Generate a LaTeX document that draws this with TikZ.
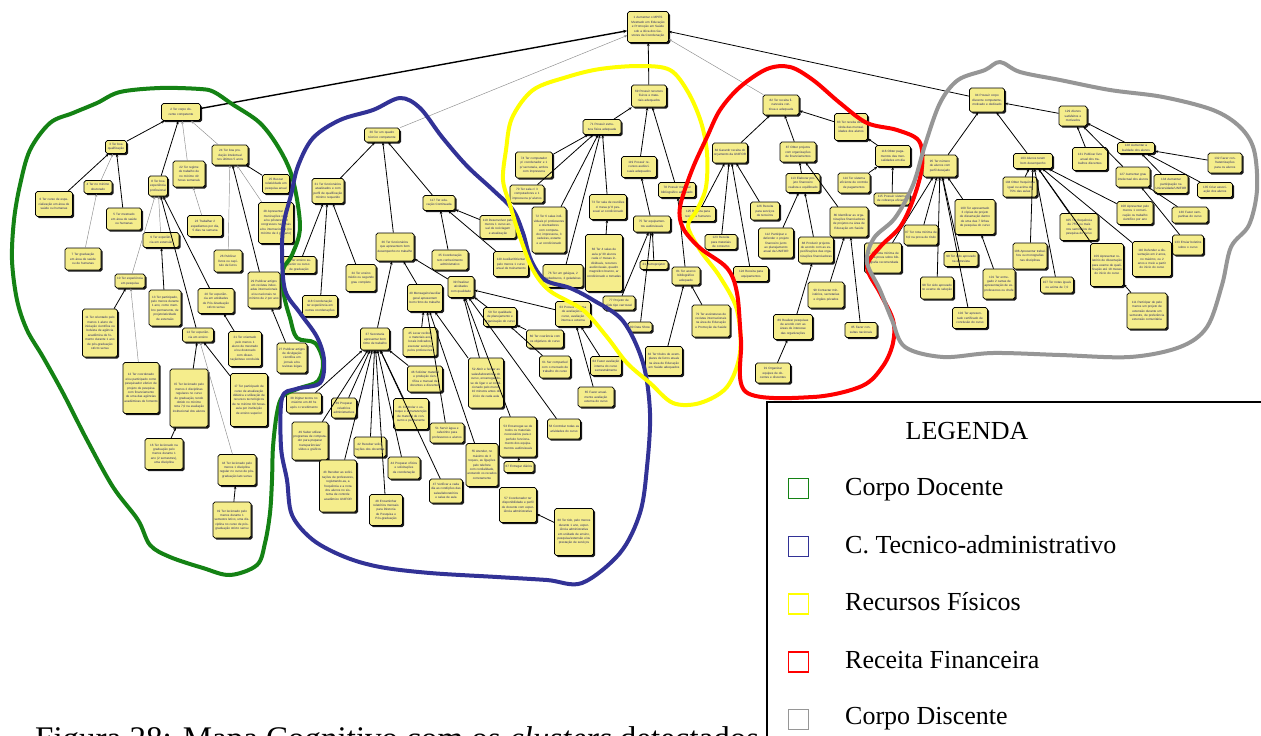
\documentclass[tikz,border=0pt]{standalone}
\usepackage{fontspec}
\setmainfont{Liberation Serif}
\newfontfamily\boxfont{Liberation Sans}
\usetikzlibrary{arrows.meta,shadows}
\definecolor{boxfill}{RGB}{245,237,140}
\definecolor{boxtext}{RGB}{40,40,100}
\definecolor{clgreen}{RGB}{20,130,20}
\definecolor{clblue}{RGB}{50,50,150}
\definecolor{clyellow}{RGB}{255,255,0}
\definecolor{clred}{RGB}{255,0,0}
\definecolor{clgray}{RGB}{150,150,150}
\newcommand\bx[6]{\pgfmathsetmacro\bxtw{#4-2.4}\node[box,minimum width=#4pt,minimum height=#5pt,text width=\bxtw pt] (#1) at (#2,#3) {#6};}
\begin{document}
\begin{tikzpicture}[x=1pt,y=-1pt,
  box/.style={draw=black,line width=0.7pt,fill=boxfill,rounded corners=1.8pt,
    drop shadow={shadow xshift=1.6pt,shadow yshift=-1.6pt,fill=black,opacity=0.9},
    inner sep=0.6pt,align=center,text=boxtext,
    font=\boxfont\fontsize{3.1}{4.4}\selectfont},
  ek/.style={draw=black,line width=0.8pt,-{Stealth[length=3.2pt,width=2.6pt]}},
  ekk/.style={draw=black,line width=1.4pt,-{Stealth[length=4pt,width=3.4pt]}},
  eg/.style={draw=black!45,line width=0.45pt,-{Stealth[length=3pt,width=2.4pt]}},
  cluster/.style={line width=4pt,line join=round},
  legtext/.style={anchor=base west,inner sep=0pt,font=\fontsize{26}{30}\selectfont},
  legsq/.style={line width=1.3pt,minimum size=20pt,inner sep=0pt}]
\useasboundingbox (0,0) rectangle (1261,736);
\clip (0,0) rectangle (1261,736);
\fill[white] (0,0) rectangle (1261,736);

% ---------- root ----------
\bx{r1}{648}{27}{41}{31}{1 Aumentar o MPES\\Mestrado em Educação e Promoção em Saúde sob a ótica dos Gestores da Coordenação}

% ---------- corpo docente ----------
\bx{c2}{181}{112}{39}{17}{2 Ter corpo docente competente}
\bx{c3}{116}{147}{21}{13}{3 Ter boa qualificação}
\bx{c4}{98}{187}{28}{13}{4 Ter no mínimo doutorado}
\bx{c5}{124}{219}{35}{22}{5 Ter mestrado em área de saúde ou humanas}
\bx{c6}{54}{204}{37}{25}{6 Ter curso de especialização em área de saúde ou humanas}
\bx{c7}{83}{259}{36}{22}{7 Ter graduação em área de saúde ou de humanas}
\bx{c8}{158}{186}{19}{20}{8 Ter boa experiência profissional}
\bx{c9}{161}{240}{36}{15}{9 Ter experiência em extensão}
\bx{c10}{130}{281}{30}{14}{10 Ter experiência em pesquisa}
\bx{c11}{100}{333}{35}{48}{11 Ter orientado pelo menos 1 aluno de iniciação científica ou bolsista de agência acadêmica de fomento durante 1 ano de pós-graduação stricto sensu}
\bx{c12}{141}{388}{36}{51}{12 Ter coordenado e/ou participado como pesquisador efetivo de projeto de pesquisa com financiamento de uma das agências acadêmicas de fomento}
\bx{c13}{165}{308}{32}{36}{13 Ter participado, pelo menos durante 1 ano, como membro permanente, de projeto/atividade de extensão}
\bx{c14}{198}{335}{31}{14}{14 Ter experiência em ensino}
\bx{c15}{189}{398}{38}{58}{15 Ter lecionado pelo menos 2 disciplinas regulares no curso de graduação, tendo obtido no mínimo nota 7,0 na avaliação institucional dos alunos}
\bx{c16}{164}{454}{38}{31}{16 Ter lecionado na graduação pelo menos durante 1 ano (2 semestres), uma disciplina}
\bx{c17}{249}{400}{37}{53}{17 Ter participado de curso de atualização didática e utilização de recursos tecnológicos de no mínimo 60 horas-aula por instituição de ensino superior}
\bx{c18}{237}{470}{38}{31}{18 Ter lecionado pelo menos 1 disciplina regular no curso de pós-graduação lato sensu}
\bx{c19}{232}{520}{38}{36}{19 Ter lecionado pelo menos durante 1 semestre letivo, uma disciplina no curso de pós-graduação stricto sensu}
\bx{c20}{216}{301}{36}{25}{20 Ter experiência em atividades de Pós-Graduação stricto sensu}
\bx{c21}{245}{349}{33}{35}{21 Ter orientado pelo menos 1 aluno de mestrado e/ou doutorado com dissertação/tese concluída}
\bx{c22}{189}{174}{32}{26}{22 Ter regime de trabalho de no mínimo 40 horas semanais}
\bx{c23}{205}{226}{35}{21}{23 Trabalhar 2 expedientes por dia, 5 dias na semana}
\bx{c24}{230}{155}{36}{20}{24 Ter boa produção intelectual nos últimos 5 anos}
\bx{c25}{276}{184}{27}{19}{25 Buscar relatividade em pesquisa anual}
\bx{c26}{228}{261}{28}{22}{26 Publicar livros ou capítulo de livros}
\bx{c27}{292}{358}{30}{30}{27 Publicar artigos de divulgação científica em jornais e/ou revistas leigas}
\bx{c28}{276}{223}{35}{41}{28 Apresentar comunicações orais e/ou pôsteres em congressos nacionais e/ou internacionais (no mínimo de 2 por ano)}
\bx{c29}{264}{290}{32}{36}{29 Publicar artigos em revistas indexadas internacionais e/ou nacionais no mínimo de 2 por ano}

% ---------- corpo tecnico-administrativo ----------
\bx{t30}{382}{135}{35}{14}{30 Ter um quadro técnico competente}
\bx{t31}{328}{191}{32}{25}{31 Ter funcionários atualizados e com perfil de qualificação mínimo requerido}
\bx{t117}{439}{203}{32}{15}{117 Ter educação Continuada}
\bx{t32}{299}{265}{34}{17}{32 Ter ensino superior ou curso de graduação}
\bx{t34}{361}{278}{30}{27}{34 Ter ensino médio ou segundo grau completo}
\bx{t118}{320}{306}{35}{21}{118 Coordenação ter experiência em outras coordenações}
\bx{t35}{450}{260}{36}{20}{35 Coordenação tem conhecimento administrativo}
\bx{t119}{498}{227}{36}{23}{119 Desenvolver pelo menos 1 curso anual de reciclagem e atualização}
\bx{t120}{511}{264}{35}{25}{120 Auxiliar/Orientar pelo menos 1 curso anual de treinamento}
\bx{t36}{395}{247}{38}{28}{36 Ter funcionários que apresentem bom desempenho no trabalho}
\bx{t40}{425}{298}{35}{27}{40 Mensageiro/auxiliar geral apresentem bom ritmo de trabalho}
\bx{t39}{461}{287}{26}{21}{39 Realizar atividades com qualidade}
\bx{t59}{500}{317}{33}{19}{59 Ter qualidade de planejamento e organização do curso}
\bx{t63}{573}{314}{35}{25}{63 Possuir sistema de avaliação do curso, avaliação interna e externa}
\bx{t37}{375}{339}{29}{22}{37 Secretaria apresentar bom ritmo de trabalho}
\bx{t45}{420}{342}{34}{29}{45 Levar recibos e materiais aos locais indicados, executar serviços pelos professores}
\bx{t60}{545}{339}{37}{18}{60 Ter coerência com os objetivos do curso}
\bx{t61}{555}{367}{31}{22}{61 Ser compatível com o mercado de trabalho do curso}
\bx{t64}{606}{366}{31}{19}{64 Fazer avaliação interna do curso semestralmente}
\bx{t65}{596}{397}{36}{20}{65 Fazer anualmente avaliação externa do curso}
\bx{t46}{425}{379}{35}{26}{46 Solicitar material e produção científica e manual de docentes e discentes}
\bx{t52}{486}{383}{35}{50}{52 Abrir e fechar as salas/laboratórios do curso, encarregando-se de ligar o ar condicionado pelo menos 10 minutos antes do início de cada aula}
\bx{t38}{304}{403}{35}{20}{38 Digitar textos no máximo em 48 hs após o recebimento}
\bx{t39p}{344}{408}{25}{20}{39 Preparar relatórios administrativos}
\bx{t41}{411}{414}{35}{31}{41 Controlar o estoque e a manutenção de material de consumo e permanente}
\bx{t51}{447}{433}{34}{20}{51 Servir água e cafezinho para professores e alunos}
\bx{t53}{518}{437}{37}{40}{53 Encarregar-se de todos os materiais necessários para o perfeito funcionamento dos equipamentos audiovisuais}
\bx{t58}{564}{429}{33}{20}{58 Controlar todas as atividades do curso}
\bx{t49}{310}{441}{36}{38}{49 Saber utilizar programas de computador para preparar transparências/ slides e gráficos}
\bx{t42}{370}{447}{32}{20}{42 Receber solicitações dos docentes}
\bx{t44}{404}{468}{32}{22}{44 Preparar ofícios e solicitações da coordenação}
\bx{t55}{482}{465}{32}{43}{55 Atender, no máximo de 3 toques, as ligações pelo telefone com cordialidade, anotando os recados corretamente}
\bx{t67}{519}{467}{30}{11}{67 Entregar diários}
\bx{t43}{338}{486}{37}{52}{43 Receber as solicitações de professores, registrando-as, a frequência e a nota dos alunos no sistema de controle acadêmico UNIFOR}
\bx{t47}{446}{491}{33}{24}{47 Verificar a cada dia as condições das salas/laboratórios e salas de aula}
\bx{t48}{386}{510}{33}{31}{48 Encaminhar relatórios mensais para Diretoria de Pesquisa e Pós-graduação}
\bx{t57}{518}{505}{37}{35}{57 Coordenador ter disponibilidade e perfil de docente com experiência administrativa}
\bx{t68}{574}{532}{39}{47}{68 Ter tido, pelo menos durante 1 ano, experiência administrativa em unidade de ensino, pesquisa/extensão e/ou prestação de serviços}

% ---------- recursos fisicos ----------
\bx{y69}{649}{96}{35}{22}{69 Possuir recursos físicos e materiais adequados}
\bx{y71}{602}{127}{38}{15}{71 Possuir estrutura física adequada}
\bx{y74}{534}{165}{37}{26}{74 Ter computador p/ coordenador e 1 p/ secretaria, ambos com impressora}
\bx{y70}{527}{194}{34}{18}{70 Ter sala c/ 3 computadores e 1 impressora p/ alunos}
\bx{y72}{549}{230}{34}{46}{72 Ter 6 salas individuais p/ professores e orientadores com computador, impressora, 3 cadeiras, estante e ar condicionado}
\bx{y73}{608}{207}{37}{25}{73 Ter sala de reuniões c/ mesa p/ 8 pessoas/ ar condicionado}
\bx{y66}{604}{263}{37}{57}{66 Ter 4 salas de aula p/ 30 alunos cada c/ mesas individuais, recursos audiovisuais, quadro magnético branco, ar condicionado e tomadas}
\bx{y76}{563}{276}{40}{23}{76 Ter um gelágua, 2 bebedouros, 2 geladeiras}
\bx{y119}{639}{167}{35}{21}{119 Possuir recursos audiovisuais adequados}
\bx{y75}{652}{224}{37}{16}{75 Ter equipamentos audiovisuais}
\bx{y78}{677}{190}{37}{15}{78 Possuir material bibliográfico adequado}
\bx{y77}{619}{303}{32}{14}{77 Projetor de slide tipo carrossel}
\bx{y21}{654}{265}{28}{9}{21 Retroprojetor}
\bx{y80}{640}{327}{24}{10}{80 Data Show}
\bx{y81}{686}{276}{28}{18}{81 Ter acervo bibliográfico adequado}
\bx{y79}{711}{321}{38}{32}{79 Ter assinaturas de revistas internacionais na área de Educação e Promoção da Saúde}
\bx{y82}{664}{361}{37}{29}{82 Ter títulos de exemplares de livros atuais na área de Educação em Saúde adequados}

% ---------- receita financeira ----------
\bx{r125}{698}{214}{35}{15}{125 Receita para recursos humanos}
\bx{r82}{781}{105}{36}{20}{82 Ter receita financeira contínua e adequada}
\bx{r83}{851}{127}{33}{27}{83 Ter receita direta vinda das mensalidades dos alunos}
\bx{r84}{730}{153}{35}{20}{84 Garantir receita do orçamento da UNIFOR}
\bx{r87}{798}{152}{36}{20}{87 Obter projetos com organizações de financiamentos}
\bx{r116}{893}{156}{35}{21}{116 Obter pagamentos das mensalidades em dia}
\bx{r113}{803}{183}{34}{19}{113 Elaborar projeto financeiro realista e equilibrado}
\bx{r114}{854}{183}{32}{20}{114 Ter sistema eficiente de controle de pagamentos}
\bx{r115}{892}{199}{36}{12}{115 Possuir sistema de cobrança eficiente}
\bx{r126}{765}{211}{29}{18}{126 Receita para serviços de terceiros}
\bx{r123}{721}{242}{32}{15}{123 Receita para materiais de consumo}
\bx{r112}{776}{243}{35}{30}{112 Participar e defender o projeto financeiro junto ao planejamento anual da UNIFOR}
\bx{r86}{849}{222}{38}{30}{86 Identificar as organizações financiadoras de projetos na área de Educação em Saúde}
\bx{r88}{816}{250}{35}{26}{88 Produzir projetos de acordo com as especificações das organizações financiadoras}
\bx{r124}{751}{274}{35}{15}{124 Receita para equipamentos}
\bx{r90}{826}{295}{36}{26}{90 Contactar ministérios, secretarias e órgãos privados}
\bx{r89}{793}{327}{39}{25}{89 Realizar pesquisas de acordo com as áreas de interesse das organizações}
\bx{r85}{861}{330}{32}{15}{85 Fazer consultas nacionais}
\bx{r91}{773}{373}{35}{20}{91 Organizar equipes de docentes e discentes}

% ---------- corpo discente ----------
\bx{g94}{987}{100}{35}{24}{94 Possuir corpo discente competente, motivado e dedicado}
\bx{g129}{1073}{116}{28}{20}{129 Alunos satisfeitos e motivados}
\bx{g95}{940}{166}{34}{22}{95 Ter número de alunos com perfil desejado}
\bx{g103}{1033}{161}{39}{15}{103 Alunos terem bom desempenho}
\bx{g128}{1136}{148}{37}{11}{128 Aumentar a lealdade dos alunos}
\bx{g131}{1090}{159}{35}{23}{131 Publicar livro anual dos trabalhos discentes}
\bx{g132}{1225}{163}{34}{20}{132 Fazer confraternizações para os alunos}
\bx{g127}{1133}{177}{34}{20}{127 Aumentar grau intelectual dos alunos}
\bx{g134}{1171}{184}{34}{19}{134 Aumentar participação na Universidade/UNIFOR}
\bx{g135}{1215}{190}{35}{15}{135 Criar associação dos alunos}
\bx{g104}{1020}{187}{34}{20}{104 Obter frequência igual ou acima de 75\% das aulas}
\bx{g108}{1135}{213}{36}{23}{108 Apresentar pelo menos 1 comunicação ou trabalho científico por ano}
\bx{g130}{1190}{215}{36}{16}{130 Fazer campanhas do curso}
\bx{g133}{1188}{245}{31}{20}{133 Enviar boletins sobre o curso}
\bx{g100}{975}{217}{40}{35}{100 Ter apresentado 3 cópias de projeto de dissertação dentro de uma das 7 linhas de pesquisa do curso}
\bx{g97}{921}{235}{34}{20}{97 Ter nota mínima de 6,0 na prova de título}
\bx{g105}{1079}{227}{38}{27}{105 Ter frequência de 75\% ou mais nos seminários de pesquisa do curso}
\bx{g110}{1152}{259}{39}{35}{110 Defender a dissertação em 2 anos, no máximo, ou 2 anos e meio a partir do início do curso}
\bx{g96}{883}{258}{37}{30}{96 Ter nota mínima de 6,0 na prova sobre bibliografia recomendada}
\bx{g99}{961}{259}{34}{15}{99 Ter sido aprovado na entrevista}
\bx{g106}{1030}{256}{34}{26}{106 Apresentar trabalhos ou monografias nas disciplinas}
\bx{g109}{1107}{265}{33}{43}{109 Apresentar relatório de dissertação para exame de qualificação até 18 meses do início do curso}
\bx{g98}{937}{288}{33}{22}{98 Ter sido aprovado no exame de seleção}
\bx{g101}{999}{284}{32}{30}{101 Ter entregado 2 cartas de apresentação de ex-professores ou chefe}
\bx{g107}{1057}{285}{33}{16}{107 Ter notas iguais ou acima de 7,0}
\bx{g102}{970}{318}{35}{21}{102 Ter apresentado certificado de conclusão do curso}
\bx{g111}{1147}{311}{40}{36}{111 Participar de pelo menos um projeto de extensão durante um semestre, de preferência extensão comunitária}

% ---------- links to the root ----------
\draw[ekk] (c2) -- (r1);
\draw[eg] (t30) -- (r1);
\draw[ek] (y69) -- (r1);
\draw[eg] (r82) -- (r1);
\draw[ek] (g94) -- (r1);

% ---------- links, strong ----------
\foreach \a/\b in {c3/c2,c8/c2,c6/c3,c5/c3,c14/c8,c20/c8,c13/c9,c11/c10,
  c25/c24,c29/c24,c27/c29,c15/c14,c17/c14,c16/c15,c19/c18,c21/c20,
  t31/t30,t36/t30,t117/t30,t32/t31,t118/t31,t34/t31,t35/t117,t119/t117,t120/t117,
  t40/t36,t39/t36,t37/t36,t45/t40,t51/t40,t52/t40,t55/t40,
  t59/t39,t63/t39,t52/t39,t58/t39,t53/t39,t60/t59,t61/t59,t64/t63,t65/t63,
  t38/t37,t39p/t37,t49/t37,t42/t37,t43/t37,t44/t37,t48/t37,t47/t37,t41/t37,t46/t37,
  t67/t53,t68/t57,
  y71/y69,y119/y69,y78/y69,y74/y71,y70/y71,y72/y71,y73/y71,y76/y71,y66/y73,
  y75/y119,y77/y75,y21/y75,y80/y75,y81/y78,y82/y81,y79/y81,
  r84/r82,r87/r82,r83/r82,r116/r83,r114/r116,r115/r116,
  r125/r84,r123/r84,r124/r84,r126/r84,r113/r87,r86/r87,r112/r113,r88/r113,
  r89/r88,r91/r89,r90/r86,r85/r86,
  g95/g94,g103/g94,g129/g94,g131/g129,g127/g129,g128/g129,
  g132/g128,g134/g128,g135/g128,g130/g127,g133/g127,
  g96/g95,g97/g95,g98/g95,g99/g95,g100/g95,g102/g95,g101/g100,
  g104/g103,g106/g103,g107/g103,g105/g103,g109/g103,g110/g103,g108/g103,g111/g109}
  \draw[ek] (\a) -- (\b);

% ---------- links, light ----------
\foreach \a/\b in {c22/c2,c24/c2,c4/c3,c7/c4,c9/c8,c10/c8,c12/c10,c23/c22,
  c28/c24,c26/c24,c18/c14}
  \draw[eg] (\a) -- (\b);

% ---------- cluster outlines ----------
\draw[cluster,clgreen] plot[smooth cycle,tension=0.55] coordinates {
  (30,150) (50,123) (73,113) (97,103) (120,92) (160,88) (200,89) (214,92)
  (232,104) (260,123) (280,150) (293,180) (300,227) (292,255) (283,270)
  (284,295) (290,318) (297,338) (315,343) (323,362) (318,381) (300,388)
  (283,396) (277,413) (273,447) (272,480) (270,513) (265,543) (257,565)
  (230,575) (203,568) (170,557) (150,545) (138,520) (113,487) (87,440)
  (63,393) (43,357) (27,330) (17,300) (12,260) (14,220) (20,185)};
\draw[cluster,clblue] plot[smooth cycle,tension=0.55] coordinates {
  (282,250) (284,222) (291,195) (298,166) (313,138) (340,120) (373,110)
  (400,98) (420,108) (442,137) (467,166) (493,190) (513,210) (523,233)
  (531,260) (545,280) (570,288) (593,300) (623,321) (643,363) (650,413)
  (647,467) (640,513) (620,553) (582,583) (547,580) (497,577) (430,573)
  (380,567) (345,557) (313,540) (292,515) (287,480) (281,447) (282,398)
  (296,389) (320,383) (324,360) (317,337) (300,313) (285,290)};
\draw[cluster,clyellow] plot[smooth cycle,tension=0.55] coordinates {
  (506,150) (512,118) (533,90) (567,77) (600,69) (640,66) (670,70)
  (688,92) (701,122) (707,153) (706,187) (697,210) (688,226) (700,250)
  (720,277) (737,310) (740,353) (727,387) (700,403) (673,403) (650,383)
  (627,363) (607,337) (583,310) (550,291) (533,270) (520,237) (510,205)
  (503,180)};
\draw[cluster,clred] plot[smooth cycle,tension=0.55] coordinates {
  (740,87) (767,69) (790,67) (813,80) (840,103) (867,123) (897,130)
  (919,141) (922,167) (913,200) (900,227) (880,247) (867,267) (880,293)
  (893,320) (893,343) (883,366) (862,386) (813,397) (746,392) (741,340)
  (737,293) (727,268) (700,248) (683,228) (680,207) (692,170) (707,137)
  (720,110)};
\draw[cluster,clgray] plot[smooth cycle,tension=0.55] coordinates {
  (940,103) (958,80) (985,70) (1000,62) (1020,72) (1060,80) (1110,90)
  (1163,97) (1213,110) (1240,127) (1254,150) (1257,190) (1249,225)
  (1231,247) (1222,285) (1207,327) (1180,347) (1130,357) (1060,355)
  (993,353) (943,357) (905,347) (892,320) (880,290) (867,262) (874,238)
  (895,218) (913,185) (925,145)};

% ---------- legend ----------
\draw[line width=1.6pt] (767,402) rectangle (1300,770);
\node[anchor=base,inner sep=0pt,font=\fontsize{26}{30}\selectfont] (legtitle) at (967,439) {LEGENDA};
\node[legsq,draw=clgreen] (sq1) at (798.5,488.5) {};
\node[legsq,draw=clblue] (sq2) at (798.5,546.5) {};
\node[legsq,draw=clyellow] (sq3) at (798.5,604) {};
\node[legsq,draw=clred] (sq4) at (798.5,662) {};
\node[legsq,draw=clgray] (sq5) at (798.5,719.5) {};
\node[legtext] (lt1) at (845,495) {Corpo Docente};
\node[legtext] (lt2) at (845,553) {C. Tecnico-administrativo};
\node[legtext] (lt3) at (845,610) {Recursos Físicos};
\node[legtext] (lt4) at (845,668) {Receita Financeira};
\node[legtext] (lt5) at (845,724) {Corpo Discente};

% ---------- caption ----------
\node[anchor=base west,inner sep=0pt,font=\fontsize{33}{38}\selectfont] (caption) at (35,749)
  {Figura 28: Mapa Cognitivo com os \textit{clusters} detectados};
\end{tikzpicture}
\end{document}
